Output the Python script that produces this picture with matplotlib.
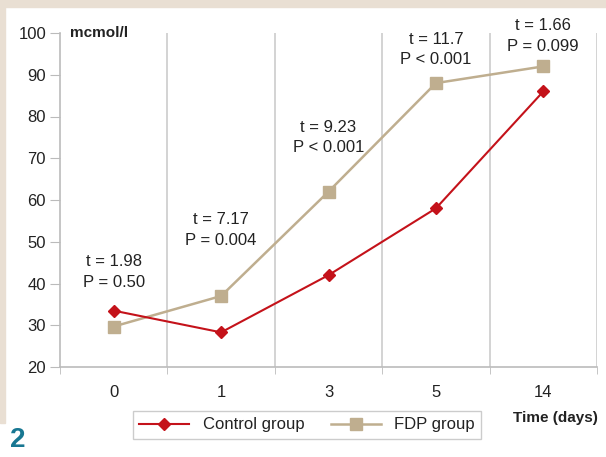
import matplotlib.pyplot as plt
from matplotlib.patches import Rectangle

days = ['0', '1', '3', '5', '14']
control = [33.5, 28.3, 42, 58, 86]
fdp = [29.7, 37, 62, 88, 92]
t_vals = ['1.98', '7.17', '9.23', '11.7', '1.66']
p_vals = ['P = 0.50', 'P = 0.004', 'P < 0.001', 'P < 0.001', 'P = 0.099']
label_y = [42.8, 52.8, 75, 96, 99.3]

plt.rcParams['font.family'] = ['Liberation Sans', 'DejaVu Sans']

def main():
    fig = plt.figure(figsize=(6.06, 4.57), dpi=100)
    fig.patch.set_facecolor('white')
    beige = '#e9dfd3'
    fig.patches.append(Rectangle((0, 1 - 7 / 457), 1, 7 / 457, transform=fig.transFigure,
                                 color=beige, zorder=0))
    fig.patches.append(Rectangle((0, 1 - 423 / 457), 5 / 606, 423 / 457, transform=fig.transFigure,
                                 color=beige, zorder=0))

    ax = fig.add_axes([60 / 606, 1 - 367 / 457, 537 / 606, 334 / 457])
    x = list(range(len(days)))

    ax.plot(x, fdp, color='#bfae8f', marker='s', markersize=9, linewidth=1.8,
            label='FDP group', zorder=3)
    ax.plot(x, control, color='#c4121a', marker='D', markersize=6.5, linewidth=1.5,
            label='Control group', zorder=4)

    ax.set_xlim(-0.5, 4.5)
    ax.set_ylim(20, 100)
    ax.set_yticks(range(20, 101, 10))
    ax.set_xticks(x)
    ax.set_xticklabels(days)
    ax.set_xticks([i + 0.5 for i in range(-1, 5)], minor=True)
    ax.tick_params(axis='x', which='major', length=0, pad=13, labelsize=12, colors='#222222')
    ax.tick_params(axis='x', which='minor', length=5, color='#bbbbbb', direction='out')
    ax.tick_params(axis='y', length=7, color='#bbbbbb', labelsize=12, colors='#222222', pad=3)

    for v in [0.5, 1.5, 2.5, 3.5, 4.5]:
        ax.axvline(v, color='#cccccc', linewidth=1.2, zorder=1)

    for s in ['top', 'right']:
        ax.spines[s].set_visible(False)
    for s in ['left', 'bottom']:
        ax.spines[s].set_color('#bbbbbb')
        ax.spines[s].set_linewidth(1.2)

    for i in x:
        ax.text(i, label_y[i], 't = ' + t_vals[i] + '\n' + p_vals[i], ha='center', va='center',
                fontsize=12, color='#222222', linespacing=1.45)

    ax.text(10 / 537, 100, 'mcmol/l', ha='left', va='center', fontsize=11, fontweight='bold',
            color='#222222', transform=ax.get_yaxis_transform())

    handles, labels = ax.get_legend_handles_labels()
    leg = fig.legend(handles[::-1], labels[::-1], loc='center', ncol=2,
                     bbox_to_anchor=(307 / 606, 1 - 425 / 457), fontsize=12,
                     handlelength=3.0, columnspacing=1.6, fancybox=False,
                     edgecolor='#cccccc', framealpha=1, borderpad=0.4)
    for t in leg.get_texts():
        t.set_color('#222222')

    fig.text(555 / 606, 1 - 418 / 457, 'Time (days)', ha='center', va='center',
             fontsize=11, fontweight='bold', color='#222222')
    fig.text(10 / 606, 1 - 440 / 457, '2', ha='left', va='center', fontsize=20,
             fontweight='bold', color='#187792')

    fig.savefig('out.png', dpi=100)


if __name__ == "__main__":
    main()
